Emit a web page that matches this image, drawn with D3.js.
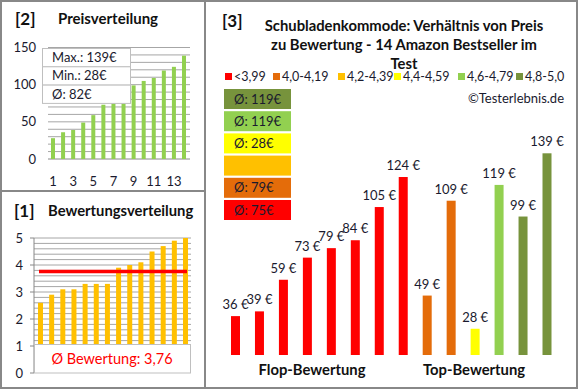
<!DOCTYPE html>
<html>
<head>
<meta charset="utf-8">
<script src="https://cdn.jsdelivr.net/npm/d3@7"></script>
<style>
  body { margin: 0; background: #fff; }
  svg { font-family: Lato, "Open Sans", sans-serif; }
</style>
</head>
<body>
<div id="chart"></div>
<script>
// sorted prices for panel [2]
var priceDist = [28, 36, 39, 49, 59, 73, 79, 84, 99, 105, 109, 119, 124, 139];
var priceTicks = [0, 50, 100, 150];
var priceXLabels = [1, 3, 5, 7, 9, 11, 13];
var priceInfo = ["Max.: 139€", "Min.: 28€", "Ø: 82€"];

// sorted ratings for panel [1]
var ratingDist = [2.6, 2.9, 3.1, 3.1, 3.3, 3.3, 3.3, 3.9, 4.0, 4.1, 4.5, 4.7, 4.9, 5.0];
var ratingTicks = [0, 1, 2, 3, 4, 5];
var ratingAvg = 3.76;

// panel [3]
var productPrices = [36, 39, 59, 73, 79, 84, 105, 124, 49, 109, 28, 119, 99, 139];
var productClass = [0, 0, 0, 0, 0, 0, 0, 0, 1, 1, 3, 4, 5, 5];
var classLabels = ["<3,99", "4,0-4,19", "4,2-4,39", "4,4-4,59", "4,6-4,79", "4,8-5,0"];
var classColors = ["#FF0000", "#E46C0A", "#FFC000", "#FFFF00", "#92D050", "#77933C"];
var classAvgLabels = ["Ø: 75€", "Ø: 79€", "", "Ø: 28€", "Ø: 119€", "Ø: 119€"];

var svg = d3.select("#chart").append("svg")
    .attr("width", 580)
    .attr("height", 390);

var gridColor = "#A6A6A6";
var textColor = "#1a1a2e";

// panel frames
svg.append("rect").attr("x", 1).attr("y", 1).attr("width", 576).attr("height", 387)
    .attr("fill", "none").attr("stroke", "#888").attr("stroke-width", 2);
svg.append("line").attr("x1", 205).attr("x2", 205).attr("y1", 1).attr("y2", 388)
    .attr("stroke", "#888").attr("stroke-width", 2);
svg.append("line").attr("x1", 1).attr("x2", 205).attr("y1", 191).attr("y2", 191)
    .attr("stroke", "#888").attr("stroke-width", 2);

// ---------- panel [2] Preisverteilung ----------
var p2 = svg.append("g");
p2.append("text").attr("x", 15).attr("y", 25).attr("font-size", 17).attr("font-weight", "bold")
    .attr("fill", "#111").text("[2]");
p2.append("text").attr("x", 58).attr("y", 24).attr("font-size", 15).attr("font-weight", "bold")
    .attr("fill", "#111").text("Preisverteilung");

var x2 = d3.scalePoint().domain(d3.range(1, 15)).range([53, 184]);
var y2 = d3.scaleLinear().domain([0, 150]).range([159, 47.5]);

p2.append("g").selectAll("line")
    .data(d3.range(10, 151, 10))
    .enter().append("line")
    .attr("x1", 48).attr("x2", 190)
    .attr("y1", d => y2(d)).attr("y2", d => y2(d))
    .attr("stroke", gridColor).attr("stroke-width", 1);
p2.append("line").attr("x1", 48).attr("x2", 190).attr("y1", y2(0)).attr("y2", y2(0))
    .attr("stroke", "#888");

p2.append("g").selectAll("text")
    .data(priceTicks)
    .enter().append("text")
    .attr("x", 36).attr("y", d => y2(d) + 4.5)
    .attr("text-anchor", "end").attr("font-size", 13).attr("fill", textColor)
    .text(d => d);

p2.append("g").selectAll("rect")
    .data(priceDist)
    .enter().append("rect")
    .attr("x", (d, i) => x2(i + 1) - 2)
    .attr("width", 4)
    .attr("y", d => y2(d))
    .attr("height", d => y2(0) - y2(d))
    .attr("fill", "#92D050");

p2.append("g").selectAll("text")
    .data(priceXLabels)
    .enter().append("text")
    .attr("x", d => x2(d)).attr("y", 186)
    .attr("text-anchor", "middle").attr("font-size", 13).attr("fill", textColor)
    .text(d => d);

var info = p2.append("g");
info.selectAll("rect")
    .data(priceInfo)
    .enter().append("rect")
    .attr("x", 42.5).attr("y", (d, i) => 48.5 + i * 18.3)
    .attr("width", 88).attr("height", 18.3)
    .attr("fill", "#fff").attr("stroke", "#BFBFBF");
info.selectAll("text")
    .data(priceInfo)
    .enter().append("text")
    .attr("x", 52).attr("y", (d, i) => 62 + i * 18.3)
    .attr("font-size", 13).attr("fill", textColor)
    .text(d => d);

// ---------- panel [1] Bewertungsverteilung ----------
var p1 = svg.append("g");
p1.append("text").attr("x", 14).attr("y", 217).attr("font-size", 17).attr("font-weight", "bold")
    .attr("fill", "#111").text("[1]");
p1.append("text").attr("x", 48).attr("y", 216).attr("font-size", 14.8).attr("font-weight", "bold")
    .attr("fill", "#111").text("Bewertungsverteilung");

var x1 = d3.scalePoint().domain(d3.range(1, 15)).range([40.5, 185.5]);
var y1 = d3.scaleLinear().domain([0, 5]).range([373, 238]);

p1.append("g").selectAll("line")
    .data(d3.range(1, 26).map(d => d / 5))
    .enter().append("line")
    .attr("x1", 34).attr("x2", 191)
    .attr("y1", d => y1(d)).attr("y2", d => y1(d))
    .attr("stroke", gridColor).attr("stroke-width", 1);

p1.append("line").attr("x1", 34).attr("x2", 34).attr("y1", y1(5)).attr("y2", y1(0))
    .attr("stroke", "#888");
p1.append("g").selectAll("line")
    .data(ratingTicks)
    .enter().append("line")
    .attr("x1", 30).attr("x2", 34)
    .attr("y1", d => y1(d)).attr("y2", d => y1(d))
    .attr("stroke", "#888");

p1.append("g").selectAll("text")
    .data(ratingTicks)
    .enter().append("text")
    .attr("x", 23).attr("y", d => y1(d) + 4.5)
    .attr("text-anchor", "end").attr("font-size", 13).attr("fill", textColor)
    .text(d => d);

p1.append("g").selectAll("rect")
    .data(ratingDist)
    .enter().append("rect")
    .attr("x", (d, i) => x1(i + 1) - 2.5)
    .attr("width", 5)
    .attr("y", d => y1(d))
    .attr("height", d => y1(0) - y1(d))
    .attr("fill", "#FFC000");

p1.append("line")
    .attr("x1", 39).attr("x2", 187)
    .attr("y1", y1(ratingAvg)).attr("y2", y1(ratingAvg))
    .attr("stroke", "#FF0000").attr("stroke-width", 3.5);

p1.append("rect")
    .attr("x", 34.5).attr("y", y1(1) - 1.5)
    .attr("width", 156).attr("height", y1(0) - y1(1) + 1.5)
    .attr("fill", "#fff").attr("stroke", "#BFBFBF");
p1.append("text")
    .attr("x", 112).attr("y", 364)
    .attr("text-anchor", "middle").attr("font-size", 14.5).attr("fill", "#FF0000")
    .text("Ø Bewertung: " + String(ratingAvg).replace(".", ","));

// ---------- panel [3] ----------
var p3 = svg.append("g");
p3.append("text").attr("x", 222).attr("y", 27).attr("font-size", 17).attr("font-weight", "bold")
    .attr("fill", "#111").text("[3]");
var titleLines = ["Schubladenkommode: Verhältnis von Preis", "zu Bewertung - 14 Amazon Bestseller im", "Test"];
p3.append("g").selectAll("text")
    .data(titleLines)
    .enter().append("text")
    .attr("x", 404).attr("y", (d, i) => 31 + i * 19)
    .attr("text-anchor", "middle").attr("font-size", 14.8).attr("font-weight", "bold")
    .attr("fill", "#111")
    .text(d => d);

// legend
var legendX = [225, 273, 338, 394, 458, 516];
var legend = p3.append("g").selectAll("g")
    .data(classLabels)
    .enter().append("g")
    .attr("transform", (d, i) => "translate(" + legendX[i] + ",72)");
legend.append("rect").attr("width", 7).attr("height", 7).attr("y", 1)
    .attr("fill", (d, i) => classColors[i]);
legend.append("text").attr("x", 9).attr("y", 9).attr("font-size", 12.5).attr("fill", textColor)
    .text(d => d);

p3.append("text").attr("x", 564).attr("y", 103).attr("text-anchor", "end")
    .attr("font-size", 13).attr("fill", textColor).text("©Testerlebnis.de");

// average boxes (top = highest class)
var avgOrder = d3.range(classLabels.length).reverse();
var boxes = p3.append("g").selectAll("g")
    .data(avgOrder)
    .enter().append("g")
    .attr("transform", (d, i) => "translate(224," + (89 + i * 22.2) + ")");
boxes.append("rect").attr("width", 67).attr("height", 20)
    .attr("fill", d => classColors[d]);
boxes.append("text").attr("x", 10).attr("y", 14.5).attr("font-size", 13).attr("fill", textColor)
    .text(d => classAvgLabels[d]);

// bars
var x3 = d3.scalePoint().domain(d3.range(productPrices.length)).range([235.5, 547]);
var y3 = d3.scaleLinear().domain([11.4, 139]).range([355, 153.3]);

p3.append("g").selectAll("rect")
    .data(productPrices)
    .enter().append("rect")
    .attr("x", (d, i) => x3(i) - 4.5)
    .attr("width", 9)
    .attr("y", d => y3(d))
    .attr("height", d => y3(y3.domain()[0]) - y3(d))
    .attr("fill", (d, i) => classColors[productClass[i]]);

p3.append("g").selectAll("text")
    .data(productPrices)
    .enter().append("text")
    .attr("x", (d, i) => x3(i))
    .attr("y", d => y3(d) - 7)
    .attr("text-anchor", "middle").attr("font-size", 13).attr("fill", textColor)
    .text(d => d + " €");

p3.append("text").attr("x", 312).attr("y", 375).attr("text-anchor", "middle")
    .attr("font-size", 14.8).attr("font-weight", "bold").attr("fill", "#111").text("Flop-Bewertung");
p3.append("text").attr("x", 474).attr("y", 375).attr("text-anchor", "middle")
    .attr("font-size", 14.8).attr("font-weight", "bold").attr("fill", "#111").text("Top-Bewertung");
</script>
</body>
</html>
